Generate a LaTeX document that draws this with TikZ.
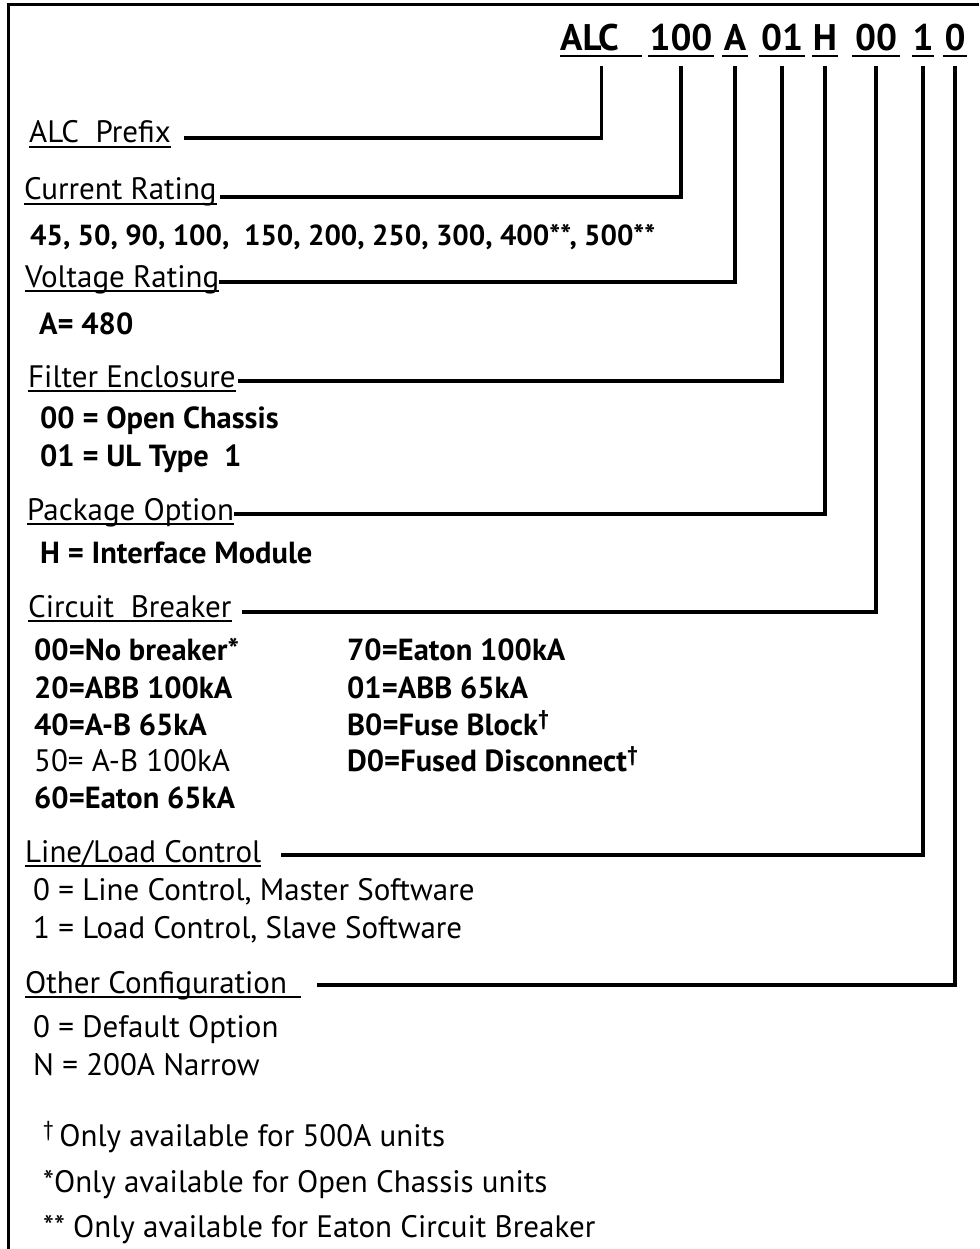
\documentclass[tikz,border=0pt]{standalone}
\usepackage{fontspec}
\setmainfont{PT Sans}
\begin{document}
\begin{tikzpicture}[x=1pt,y=-1pt,
  hd/.style={anchor=base west, inner sep=0pt, font=\fontsize{31}{34}\selectfont},
  it/.style={anchor=base west, inner sep=0pt, font=\fontsize{30.5}{34}\selectfont\bfseries},
  rg/.style={anchor=base west, inner sep=0pt, font=\fontsize{31}{34}\selectfont},
  cd/.style={anchor=base, inner sep=0pt, font=\fontsize{37}{40}\selectfont\bfseries},
  conn/.style={line width=3.2pt, line join=miter},
  uln/.style={line width=2pt},
  frame/.style={line width=3pt}]
\useasboundingbox (0,0) rectangle (979,1249);
\draw[frame] (8,1249) -- (8,5) -- (979,5);

% code segments
\node[cd, anchor=base west, text width=82pt, align=left] (cALC) at (560,51) {ALC};
\node[cd, minimum width=65] (c100) at (681,51) {100};
\node[cd, minimum width=26] (cA) at (735,51) {A};
\node[cd, minimum width=45] (c01) at (782,51) {01};
\node[cd, minimum width=26] (cH) at (825,51) {H};
\node[cd, minimum width=48] (c00) at (876,51) {00};
\node[cd, minimum width=21] (c1) at (923,51) {1};
\node[cd, minimum width=24] (c0) at (955,51) {0};
\foreach \n in {cALC,c100,cA,c01,cH,c00,c1,c0}
  \draw[uln, line width=2.6pt] ([yshift=-5pt]\n.base west) -- ([yshift=-5pt]\n.base east);

% headings
\node[hd] (h1) at (29,143) {ALC\ \ Prefix};
\node[hd] (h2) at (24,200) {Current Rating};
\node[hd] (h3) at (25,287) {Voltage Rating};
\node[hd] (h4) at (28,387) {Filter Enclosure};
\node[hd] (h5) at (27,520) {Package Option};
\node[hd] (h6) at (28,617) {Circuit\ \ Breaker};
\node[hd] (h7) at (25,862) {Line/Load Control};
\node[hd] (h8) at (25,993) {Other Configuration\ \,};
\foreach \n in {h1,h2,h3,h4,h5,h6,h7,h8}
  \draw[uln] ([yshift=-4pt]\n.base west) -- ([yshift=-4pt]\n.base east);

% connectors
\draw[conn] ([yshift=-15pt]cALC.base) |- ([xshift=13pt,yshift=5pt]h1.base east);
\draw[conn] ([yshift=-15pt]c100.base) |- ([xshift=3pt,yshift=3pt]h2.base east);
\draw[conn] ([yshift=-15pt]cA.base) |- ([xshift=0pt,yshift=5pt]h3.base east);
\draw[conn] ([yshift=-15pt]c01.base) |- ([xshift=2pt,yshift=6pt]h4.base east);
\draw[conn] ([yshift=-15pt]cH.base) |- ([xshift=0pt,yshift=6pt]h5.base east);
\draw[conn] ([yshift=-15pt]c00.base) |- ([xshift=10pt,yshift=5pt]h6.base east);
\draw[conn] ([yshift=-15pt]c1.base) |- ([xshift=20pt,yshift=7pt]h7.base east);
\draw[conn] ([yshift=-15pt]c0.base) |- ([xshift=16pt,yshift=8pt]h8.base east);

% items
\node[it, font=\fontsize{29}{32}\selectfont\bfseries] (i1) at (30,245) {45, 50, 90, 100,\ \ 150, 200, 250, 300, 400**, 500**};
\node[it] (i2) at (39,334) {A= 480};
\node[it] (i3) at (40,428) {00 = Open Chassis};
\node[it] (i4) at (40,466) {01 = UL Type\ \ 1};
\node[it] (i5) at (40,563) {H = Interface Module};
\node[it] (b1) at (34,660) {00=No breaker*};
\node[it] (b2) at (34,698) {20=ABB 100kA};
\node[it] (b3) at (34,735) {40=A-B 65kA};
\node[rg] (b4) at (34,771) {50= A-B 100kA};
\node[it] (b5) at (34,808) {60=Eaton 65kA};
\node[it] (b6) at (347,660) {70=Eaton 100kA};
\node[it] (b7) at (347,698) {01=ABB 65kA};
\node[it] (b8) at (347,735) {B0=Fuse Block\textsuperscript{\textdagger}};
\node[it] (b9) at (347,771) {D0=Fused Disconnect\textsuperscript{\textdagger}};
\node[rg] (l1) at (33,900) {0 = Line Control, Master Software};
\node[rg] (l2) at (33,938) {1 = Load Control, Slave Software};
\node[rg] (o1) at (33,1037) {0 = Default Option};
\node[rg] (o2) at (33,1075) {N = 200A Narrow};
\node[rg] (f1) at (43,1146) {\textsuperscript{\textdagger}\,Only available for 500A units};
\node[rg] (f2) at (43,1192) {*Only available for Open Chassis units};
\node[rg] (f3) at (43,1237) {** Only available for Eaton Circuit Breaker};
\end{tikzpicture}
\end{document}
